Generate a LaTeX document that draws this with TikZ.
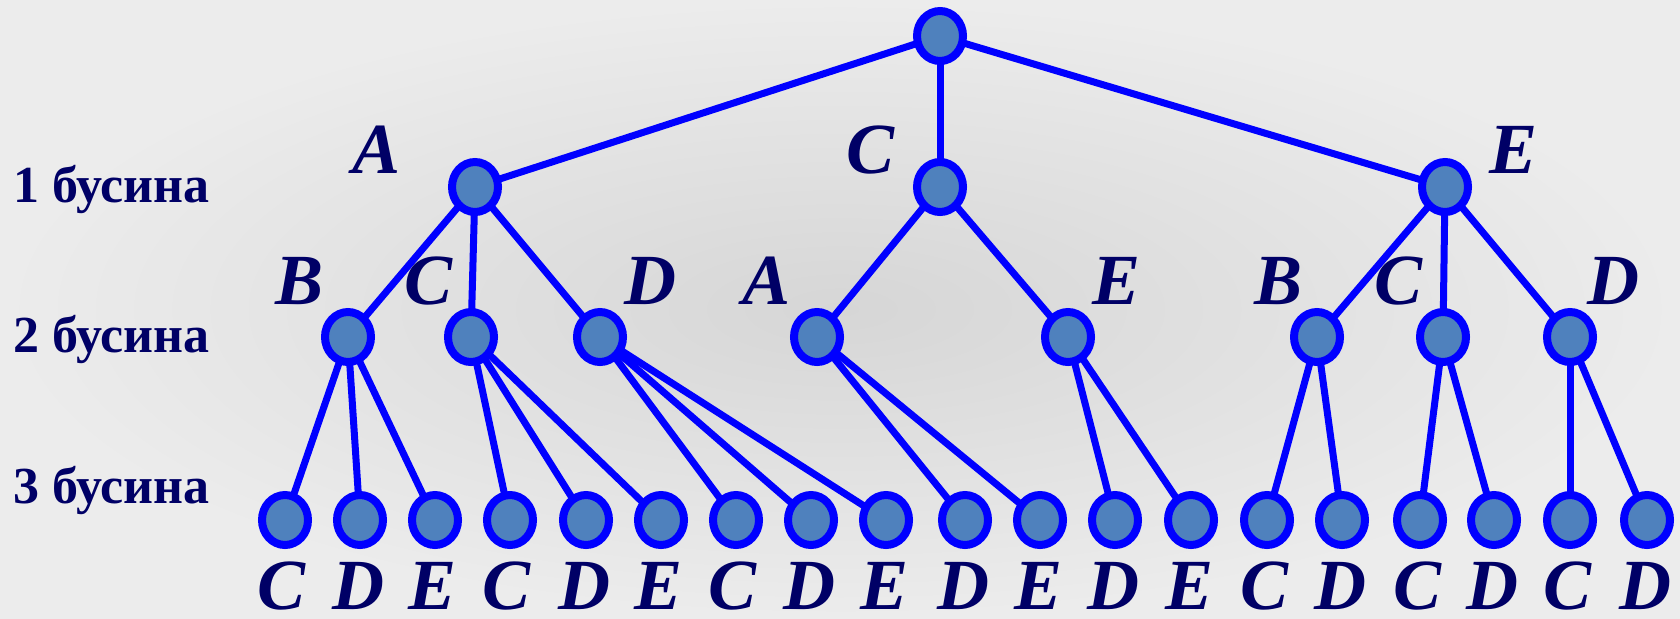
\documentclass[tikz,border=0pt]{standalone}
\usepackage{fontspec}
\setmainfont{Liberation Serif}
\usetikzlibrary{shapes.geometric}
\definecolor{beadfill}{RGB}{79,129,189}
\definecolor{ink}{RGB}{0,0,102}
\definecolor{bgin}{RGB}{214,214,214}
\definecolor{bgout}{RGB}{236,236,236}
\pgfdeclarelayer{bg}
\pgfdeclarelayer{edges}
\pgfsetlayers{bg,edges,main}
\begin{document}
\begin{tikzpicture}[x=1pt,y=-1pt,
  bead/.style={ellipse, draw=blue, fill=beadfill, line width=8pt, minimum width=46pt, minimum height=50pt, inner sep=0pt},
  wire/.style={draw=blue, line width=7pt},
  letter/.style={anchor=base, text=ink, inner sep=0pt, font=\fontsize{72}{72}\selectfont\bfseries\itshape},
  level/.style={anchor=base west, text=ink, inner sep=0pt, font=\fontsize{52}{52}\selectfont\bfseries}]
\begin{pgfonlayer}{bg}
  \shade[inner color=bgin, outer color=bgout] (0,0) rectangle (1680,618);
\end{pgfonlayer}
\useasboundingbox (0,0) rectangle (1680,618);
% root
\node[bead] (r) at (940,36) {};
% level 1
\node[bead] (a) at (475,187) {};
\node[bead] (c) at (940,187) {};
\node[bead] (e) at (1445,187) {};
% level 2
\node[bead] (ab) at (348,337) {};
\node[bead] (ac) at (471,337) {};
\node[bead] (ad) at (600,337) {};
\node[bead] (ca) at (817,337) {};
\node[bead] (ce) at (1068,337) {};
\node[bead] (eb) at (1317,337) {};
\node[bead] (ec) at (1443,337) {};
\node[bead] (ed) at (1570,337) {};
% level 3
\node[bead] (l1) at (285,520) {};
\node[bead] (l2) at (360,520) {};
\node[bead] (l3) at (435,520) {};
\node[bead] (l4) at (510,520) {};
\node[bead] (l5) at (586,520) {};
\node[bead] (l6) at (661,520) {};
\node[bead] (l7) at (736,520) {};
\node[bead] (l8) at (811,520) {};
\node[bead] (l9) at (886,520) {};
\node[bead] (l10) at (965,520) {};
\node[bead] (l11) at (1040,520) {};
\node[bead] (l12) at (1115,520) {};
\node[bead] (l13) at (1191,520) {};
\node[bead] (l14) at (1267,520) {};
\node[bead] (l15) at (1342,520) {};
\node[bead] (l16) at (1420,520) {};
\node[bead] (l17) at (1494,520) {};
\node[bead] (l18) at (1570,520) {};
\node[bead] (l19) at (1647,520) {};
% edges
\begin{pgfonlayer}{edges}
  \draw[wire] (r.center) -- (a.center);
  \draw[wire] (r.center) -- (c.center);
  \draw[wire] (r.center) -- (e.center);
  \draw[wire] (a.center) -- (ab.center);
  \draw[wire] (a.center) -- (ac.center);
  \draw[wire] (a.center) -- (ad.center);
  \draw[wire] (c.center) -- (ca.center);
  \draw[wire] (c.center) -- (ce.center);
  \draw[wire] (e.center) -- (eb.center);
  \draw[wire] (e.center) -- (ec.center);
  \draw[wire] (e.center) -- (ed.center);
  \draw[wire] (ab.center) -- (l1.center);
  \draw[wire] (ab.center) -- (l2.center);
  \draw[wire] (ab.center) -- (l3.center);
  \draw[wire] (ac.center) -- (l4.center);
  \draw[wire] (ac.center) -- (l5.center);
  \draw[wire] (ac.center) -- (l6.center);
  \draw[wire] (ad.center) -- (l7.center);
  \draw[wire] (ad.center) -- (l8.center);
  \draw[wire] (ad.center) -- (l9.center);
  \draw[wire] (ca.center) -- (l10.center);
  \draw[wire] (ca.center) -- (l11.center);
  \draw[wire] (ce.center) -- (l12.center);
  \draw[wire] (ce.center) -- (l13.center);
  \draw[wire] (eb.center) -- (l14.center);
  \draw[wire] (eb.center) -- (l15.center);
  \draw[wire] (ec.center) -- (l16.center);
  \draw[wire] (ec.center) -- (l17.center);
  \draw[wire] (ed.center) -- (l18.center);
  \draw[wire] (ed.center) -- (l19.center);
\end{pgfonlayer}
% level texts
\node[level] (t1) at (13,202) {1 бусина};
\node[level] (t2) at (13,352) {2 бусина};
\node[level] (t3) at (13,503) {3 бусина};
% letters level 1
\node[letter] (la) at (377,173) {A};
\node[letter] (lc) at (870,173) {C};
\node[letter] (le) at (1513,173) {E};
% letters level 2
\node[letter] (lab) at (300,304) {B};
\node[letter] (lac) at (429,304) {C};
\node[letter] (lad) at (650,304) {D};
\node[letter] (lca) at (767,304) {A};
\node[letter] (lce) at (1116,304) {E};
\node[letter] (leb) at (1278,304) {B};
\node[letter] (lec) at (1398,304) {C};
\node[letter] (led) at (1613,304) {D};
% letters level 3
\node[letter] (m1) at (282,609) {C};
\node[letter] (m2) at (358,609) {D};
\node[letter] (m3) at (433,609) {E};
\node[letter] (m4) at (507,609) {C};
\node[letter] (m5) at (584,609) {D};
\node[letter] (m6) at (659,609) {E};
\node[letter] (m7) at (733,609) {C};
\node[letter] (m8) at (809,609) {D};
\node[letter] (m9) at (884,609) {E};
\node[letter] (m10) at (963,609) {D};
\node[letter] (m11) at (1038,609) {E};
\node[letter] (m12) at (1113,609) {D};
\node[letter] (m13) at (1189,609) {E};
\node[letter] (m14) at (1264,609) {C};
\node[letter] (m15) at (1340,609) {D};
\node[letter] (m16) at (1417,609) {C};
\node[letter] (m17) at (1492,609) {D};
\node[letter] (m18) at (1567,609) {C};
\node[letter] (m19) at (1645,609) {D};
\end{tikzpicture}
\end{document}
